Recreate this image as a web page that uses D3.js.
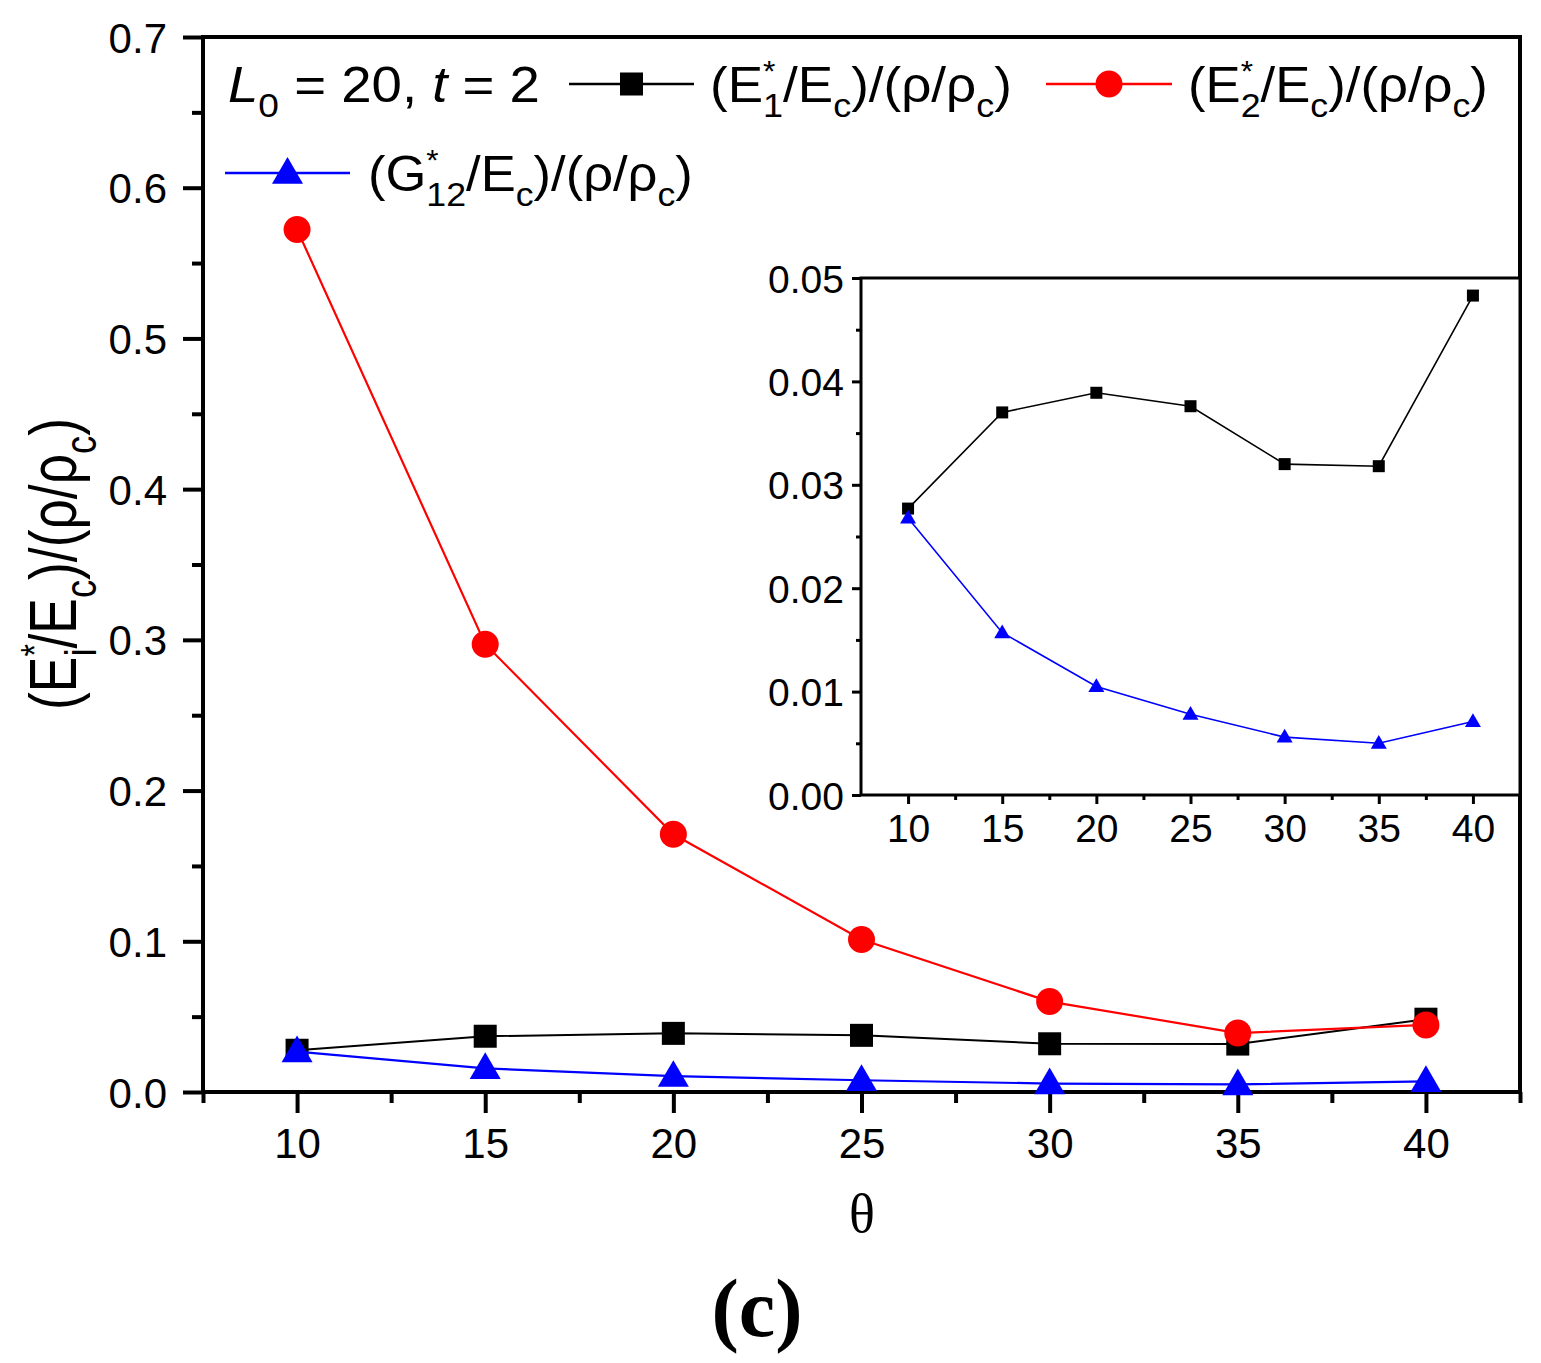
<!DOCTYPE html>
<html><head><meta charset="utf-8">
<script src="https://cdn.jsdelivr.net/npm/d3@7"></script>
<style>
html,body{margin:0;padding:0;background:#fff;}
svg{display:block;font-family:"Liberation Sans",Arial,sans-serif;}
</style></head>
<body>
<svg id="chart" width="1541" height="1363"></svg>
<script>
// ---- data ----
const theta = [10, 15, 20, 25, 30, 35, 40];
const E1 = [0.0277, 0.0370, 0.0389, 0.0376, 0.0320, 0.0318, 0.0483];
const E2 = [0.5723, 0.2971, 0.1710, 0.1012, 0.0600, 0.0391, 0.0445];
const G12 = [0.0268, 0.0157, 0.0105, 0.0078, 0.0056, 0.0050, 0.0071];
const xTicks = [10, 15, 20, 25, 30, 35, 40];
const xMinor = [7.5, 12.5, 17.5, 22.5, 27.5, 32.5, 37.5, 42.5];
const yTicksMain = [0, 0.1, 0.2, 0.3, 0.4, 0.5, 0.6, 0.7];
const yMinorMain = [0.05, 0.15, 0.25, 0.35, 0.45, 0.55, 0.65];
const yTicksInset = [0, 0.01, 0.02, 0.03, 0.04, 0.05];
const yMinorInset = [0.005, 0.015, 0.025, 0.035, 0.045];

const svg = d3.select("#chart");

// rich text helper: segments {t}, {sub}, {supsub:[sup,sub]}
function rich(g, segs, fs) {
  const text = g.append("text").attr("font-size", fs);
  let cur = 0;
  segs.forEach(s => {
    if (s.t !== undefined) {
      const ts = text.append("tspan").text(s.t).attr("dy", -cur);
      if (s.italic) ts.attr("font-style", "italic");
      cur = 0;
    } else if (s.sub !== undefined) {
      const d = 0.3 * fs;
      text.append("tspan").text(s.sub).attr("font-size", fs * 0.68).attr("dy", d - cur);
      cur = d;
    } else if (s.supsub) {
      const u = -0.42 * fs;
      const sp = text.append("tspan").text(s.supsub[0]).attr("font-size", fs * 0.6).attr("dy", u - cur);
      cur = u;
      const w = sp.node().getComputedTextLength();
      const d = 0.3 * fs;
      text.append("tspan").text(s.supsub[1]).attr("font-size", fs * 0.68).attr("dx", -w).attr("dy", d - cur);
      cur = d;
    }
  });
  return text;
}
function fitWidth(g, target) {
  const bb = g.node().getBBox();
  return target / bb.width;
}

// ---- main plot ----
const M = {l: 203, r: 1520, t: 37, b: 1092};
const x = d3.scaleLinear().domain([7.5, 42.5]).range([M.l, M.r]);
const y = d3.scaleLinear().domain([0, 0.7]).range([M.b, M.t]);

const axMain = svg.append("g").attr("class", "mainaxes");
axMain.append("rect").attr("x", M.l).attr("y", M.t).attr("width", M.r - M.l).attr("height", M.b - M.t)
  .attr("fill", "none").attr("stroke", "#000").attr("stroke-width", 4);

function styleAxis(g, sw, fs) {
  g.select(".domain").remove();
  g.selectAll(".tick line").attr("stroke", "#000").attr("stroke-width", sw);
  g.selectAll(".tick text").attr("fill", "#000").attr("font-size", fs)
    .attr("font-family", '"Liberation Sans",Arial,sans-serif');
}

const gx = axMain.append("g").attr("transform", `translate(0,${M.b})`)
  .call(d3.axisBottom(x).tickValues(xTicks).tickSize(21).tickPadding(15).tickFormat(d3.format("d")));
styleAxis(gx, 4, 42);
const gxm = axMain.append("g").attr("transform", `translate(0,${M.b})`)
  .call(d3.axisBottom(x).tickValues(xMinor).tickSize(11).tickFormat(""));
styleAxis(gxm, 4, 42);

const gy = axMain.append("g").attr("transform", `translate(${M.l},0)`)
  .call(d3.axisLeft(y).tickValues(yTicksMain).tickSize(20).tickPadding(16).tickFormat(d3.format(".1f")));
styleAxis(gy, 4, 42);
gy.selectAll(".tick text").attr("dy", "0.36em");
const gym = axMain.append("g").attr("transform", `translate(${M.l},0)`)
  .call(d3.axisLeft(y).tickValues(yMinorMain).tickSize(11).tickFormat(""));
styleAxis(gym, 4, 42);

// series
const series = [
  {vals: E1, color: "#000000", shape: "square", w: 2},
  {vals: E2, color: "#ff0000", shape: "circle", w: 2.2},
  {vals: G12, color: "#0000ff", shape: "triangle", w: 2.2}
];
function drawMarker(g, shape, color, cx, cy, s) {
  if (shape === "square") {
    g.append("rect").attr("x", cx - s / 2).attr("y", cy - s / 2).attr("width", s).attr("height", s).attr("fill", color);
  } else if (shape === "circle") {
    g.append("circle").attr("cx", cx).attr("cy", cy).attr("r", s / 2).attr("fill", color);
  } else {
    const h = s * 0.86;
    g.append("path").attr("d", `M${cx},${cy - h * 0.6}L${cx + s / 2},${cy + h * 0.4}L${cx - s / 2},${cy + h * 0.4}Z`).attr("fill", color);
  }
}
const mainSizes = {square: 23, circle: 27, triangle: 31};
const gData = svg.append("g");
series.forEach(se => {
  const pts = theta.map((t, i) => [x(t), y(se.vals[i])]);
  gData.append("path").attr("d", d3.line()(pts)).attr("fill", "none").attr("stroke", se.color).attr("stroke-width", se.w);
  pts.forEach(p => drawMarker(gData, se.shape, se.color, p[0], p[1], mainSizes[se.shape]));
});

// ---- inset ----
const I = {l: 861, r: 1520, t: 278, b: 795};
const xi = d3.scaleLinear().domain([7.5, 42.5]).range([I.l, I.r]);
const yi = d3.scaleLinear().domain([0, 0.05]).range([I.b, I.t]);
const ins = svg.append("g");
ins.append("rect").attr("x", I.l).attr("y", I.t).attr("width", I.r - I.l).attr("height", I.b - I.t)
  .attr("fill", "#fff").attr("stroke", "#000").attr("stroke-width", 3);
const gix = ins.append("g").attr("transform", `translate(0,${I.b})`)
  .call(d3.axisBottom(xi).tickValues(xTicks).tickSize(9).tickPadding(10).tickFormat(d3.format("d")));
styleAxis(gix, 3, 39);
const gixm = ins.append("g").attr("transform", `translate(0,${I.b})`)
  .call(d3.axisBottom(xi).tickValues(xMinor.slice(1, -1)).tickSize(5).tickFormat(""));
styleAxis(gixm, 3, 39);
const giy = ins.append("g").attr("transform", `translate(${I.l},0)`)
  .call(d3.axisLeft(yi).tickValues(yTicksInset).tickSize(9).tickPadding(8).tickFormat(d3.format(".2f")));
styleAxis(giy, 3, 39);
giy.selectAll(".tick text").attr("dy", "0.36em");
const giym = ins.append("g").attr("transform", `translate(${I.l},0)`)
  .call(d3.axisLeft(yi).tickValues(yMinorInset).tickSize(5).tickFormat(""));
styleAxis(giym, 3, 39);
const insetSeries = [series[0], series[2]];
const insetSizes = {square: 12, triangle: 16};
insetSeries.forEach(se => {
  const pts = theta.map((t, i) => [xi(t), yi(se.vals[i])]);
  ins.append("path").attr("d", d3.line()(pts)).attr("fill", "none").attr("stroke", se.color).attr("stroke-width", 1.6);
  pts.forEach(p => drawMarker(ins, se.shape, se.color, p[0], p[1], insetSizes[se.shape]));
});

// ---- legend ----
const leg = svg.append("g");
const legFS = 50;
function legendLabel(xp, yp, segs, target) {
  const g = leg.append("g").attr("transform", `translate(${xp},${yp})`);
  const inner = g.append("g");
  rich(inner, segs, legFS);
  const s = fitWidth(inner, target);
  inner.attr("transform", `scale(${s},1)`);
}
legendLabel(228, 102, [{t: "L", italic: true}, {sub: "0"}, {t: " = 20, "}, {t: "t", italic: true}, {t: " = 2"}], 312);
const legItems = [
  {s: series[0], x1: 569, x2: 694, y: 84, tx: 710, segs: [{t: "(E"}, {supsub: ["*", "1"]}, {t: "/E"}, {sub: "c"}, {t: ")/(ρ/ρ"}, {sub: "c"}, {t: ")"}], w: 302},
  {s: series[1], x1: 1046, x2: 1172, y: 84, tx: 1188, segs: [{t: "(E"}, {supsub: ["*", "2"]}, {t: "/E"}, {sub: "c"}, {t: ")/(ρ/ρ"}, {sub: "c"}, {t: ")"}], w: 300},
  {s: series[2], x1: 225, x2: 350, y: 173, tx: 368, segs: [{t: "(G"}, {supsub: ["*", "12"]}, {t: "/E"}, {sub: "c"}, {t: ")/(ρ/ρ"}, {sub: "c"}, {t: ")"}], w: 325}
];
legItems.forEach(it => {
  leg.append("line").attr("x1", it.x1).attr("x2", it.x2).attr("y1", it.y).attr("y2", it.y)
    .attr("stroke", it.s.color).attr("stroke-width", 2.5);
  drawMarker(leg, it.s.shape, it.s.color, (it.x1 + it.x2) / 2, it.y, mainSizes[it.s.shape]);
  legendLabel(it.tx, it.y + 18, it.segs, it.w);
});

// ---- axis titles ----
const yt = svg.append("g").attr("transform", "translate(76,564) rotate(-90)");
const ytInner = yt.append("g");
rich(ytInner, [{t: "(E"}, {supsub: ["*", "i"]}, {t: "/E"}, {sub: "c"}, {t: ")/(ρ/ρ"}, {sub: "c"}, {t: ")"}], 66);
const ybb = ytInner.node().getBBox();
const ys = 292 / ybb.width;
ytInner.attr("transform", `scale(${ys},1) translate(${-ybb.x - ybb.width / 2},0)`);

svg.append("text").attr("x", 862).attr("y", 1232).attr("text-anchor", "middle")
  .attr("font-family", '"Liberation Serif","Times New Roman",serif').attr("font-size", 54).text("θ");

svg.append("text").attr("x", 757).attr("y", 1336).attr("text-anchor", "middle")
  .attr("font-family", '"Liberation Serif","Times New Roman",serif').attr("font-weight", "bold")
  .attr("font-size", 82).text("(c)");
</script>
</body></html>
